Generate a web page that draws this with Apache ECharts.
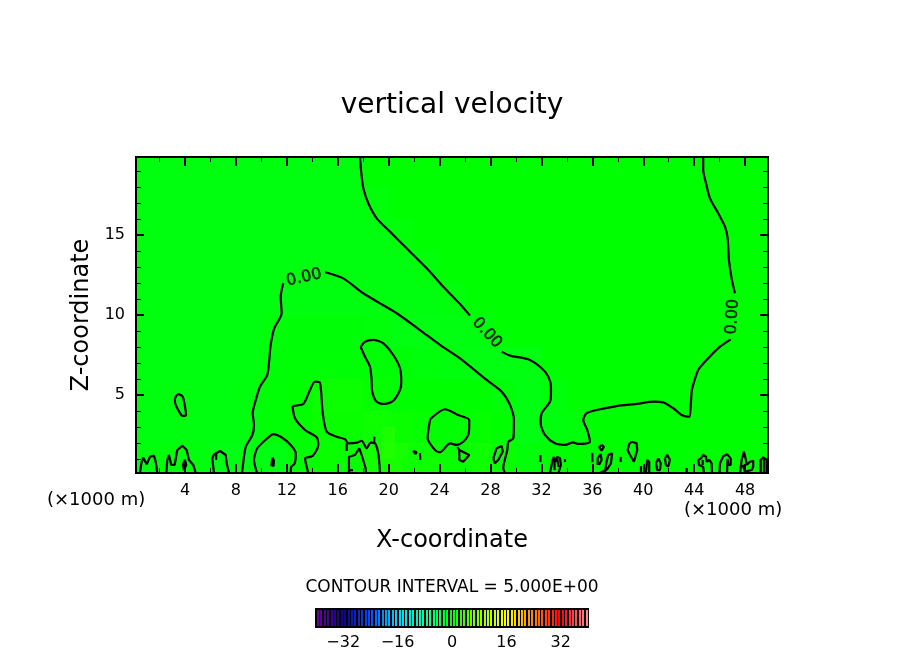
<!DOCTYPE html>
<html>
<head>
<meta charset="utf-8">
<title>vertical velocity</title>
<script src="https://cdn.jsdelivr.net/npm/echarts@6/dist/echarts.min.js"></script>
<style>
  html, body { margin: 0; padding: 0; background: #fff; }
  #main { width: 904px; height: 654px; }
</style>
</head>
<body>
<div id="main"></div>
<script>
// tick values, km
var xMajorTicks = [4, 8, 12, 16, 20, 24, 28, 32, 36, 40, 44, 48];
var xMinorTicks = [2, 6, 10, 14, 18, 22, 26, 30, 34, 38, 42, 46];
var zMajorTicks = [5, 10, 15];
var zMinorTicks = [1, 2, 3, 4, 6, 7, 8, 9, 11, 12, 13, 14, 16, 17, 18, 19];
var barTicks = [-32, -16, 0, 16, 32];

// colour bar cells, one per unit
var barValues = [-39.5, -38.5, -37.5, -36.5, -35.5, -34.5, -33.5, -32.5, -31.5, -30.5, -29.5, -28.5, -27.5, -26.5, -25.5, -24.5,
  -23.5, -22.5, -21.5, -20.5, -19.5, -18.5, -17.5, -16.5, -15.5, -14.5, -13.5, -12.5, -11.5, -10.5, -9.5, -8.5,
  -7.5, -6.5, -5.5, -4.5, -3.5, -2.5, -1.5, -0.5, 0.5, 1.5, 2.5, 3.5, 4.5, 5.5, 6.5, 7.5,
  8.5, 9.5, 10.5, 11.5, 12.5, 13.5, 14.5, 15.5, 16.5, 17.5, 18.5, 19.5, 20.5, 21.5, 22.5, 23.5,
  24.5, 25.5, 26.5, 27.5, 28.5, 29.5, 30.5, 31.5, 32.5, 33.5, 34.5, 35.5, 36.5, 37.5, 38.5, 39.5];

// background field, 2 km cells
var fieldX = [1, 3, 5, 7, 9, 11, 13, 15, 17, 19, 21, 23, 25, 27, 29, 31, 33, 35, 37, 39, 41, 43, 45, 47, 49];
var fieldZ = [1, 3, 5, 7, 9, 11, 13, 15, 17, 19];
var fieldValues = [
  [-0.6, -0.4, -0.6, -1, -0.8, -0.8, -0.2, 0.4, 0.4, 1, 0.8, 0.8, 0.5, 0.8, 0.5, -0.4, 0, 0, 0, 0, 0, 0, 0, 0, 0],
  [-0.7, -0.7, -0.7, -0.7, -0.7, -0.2, 0, 0.5, 0.5, 0.8, 0.5, 0.3, 0, 0.3, 0, -0.8, -0.6, -0.4, 0, 0, 0, 0, 0, 0, 0],
  [-0.7, -0.7, -0.7, -0.7, -0.6, -0.2, 0, 0.6, 0.6, 0.3, 0, 0, 0, 0, -0.4, -0.8, -0.5, 0, 0, 0, 0, 0, 0, 0, 0],
  [-0.7, -0.7, -0.7, -0.7, -0.7, -0.3, -0.2, -0.2, -0.2, -0.2, -0.3, -0.5, -0.6, -0.8, -0.8, -0.8, 0, 0, 0, 0, 0, 0, 0, 0, 0],
  [-0.7, -0.7, -0.7, -0.7, -0.7, -0.4, -0.3, -0.3, -0.3, -0.4, -0.8, -0.8, -0.8, -0.7, 0, 0, 0, 0, 0, 0, 0, 0, 0, 0, 0],
  [-0.7, -0.7, -0.7, -0.7, -0.7, -0.7, -0.7, -0.7, -0.7, -0.7, -0.7, -0.7, -0.5, 0, 0, 0, 0, 0, 0, 0, 0, 0, 0, 0, 0],
  [-0.7, -0.7, -0.7, -0.7, -0.7, -0.7, -0.7, -0.7, -0.7, -0.7, -0.7, -0.4, 0, 0, 0, 0, 0, 0, 0, 0, 0, 0, 0, 0, 0],
  [-0.7, -0.7, -0.7, -0.7, -0.7, -0.7, -0.7, -0.7, -0.7, -0.7, -0.4, 0, 0, 0, 0, 0, 0, 0, 0, 0, 0, 0, 0, 0, 0],
  [-0.7, -0.7, -0.7, -0.7, -0.7, -0.7, -0.7, -0.7, -0.7, -0.4, 0, 0, 0, 0, 0, 0, 0, 0, 0, 0, 0, 0, 0, 0, 0],
  [-0.7, -0.7, -0.7, -0.7, -0.7, -0.7, -0.7, -0.7, -0.7, 0, 0, 0, 0, 0, 0, 0, 0, 0, 0, 0, 0, 0, 0, 0, 0]
];
// warmer 1 km spots near the ground
var fieldSpots = [[20, 1.5, 1.7], [20, 2.5, 1.5], [20.5, 0.5, 1.2], [21, 1.5, 1.2]];

// zero contours, [x, z] in km
var lineTopLeft = [[17.75, 19.875], [17.85, 18.86], [18.01, 17.92], [18.4, 16.98], [19.06, 16.04], [20.1, 15.21], [21.41, 14.17],
  [22.99, 12.92], [24.29, 11.77], [25.6, 10.69], [26.39, 9.96]];
var lineValley = [[28.88, 7.71], [29.53, 7.46], [30.97, 7.23], [32.02, 6.67], [32.54, 6.14], [32.75, 5.52], [32.75, 5.13], [32.67, 4.58],
  [32.02, 3.86], [31.94, 3.23], [32.28, 2.5], [33.06, 1.98], [33.85, 1.88], [34.5, 2.04], [34.89, 1.94], [35.81, 2.08], [35.6, 2.81],
  [35.29, 3.44], [35.55, 3.86], [36.34, 4.06], [37.91, 4.31], [39.48, 4.44], [40.79, 4.58], [41.57, 4.54], [42.36, 4.17], [43.02, 3.75],
  [43.61, 3.64], [43.72, 4.27], [43.8, 5.19], [43.88, 5.52], [44.32, 6.56], [44.98, 7.19], [46.03, 8.02], [46.87, 8.48]];
var lineTopRight = [[47.2, 11.36], [46.94, 12.29], [46.73, 13.44], [46.63, 14.79], [46.42, 15.52], [45.89, 16.36], [45.24, 17.29],
  [44.93, 18.23], [44.71, 19.06], [44.71, 19.875]];
var archLeft = [[8.48, 0.125], [8.58, 0.81], [8.77, 1.75], [9.29, 2.5], [9.42, 3.13], [9.32, 3.86], [9.63, 4.88], [9.89, 5.52], [10.46, 6.25],
  [10.62, 7.19], [10.73, 8.13], [11.01, 9.17], [11.59, 10.11], [11.52, 11.14], [11.72, 11.98]];
var archRight = [[15, 12.67], [16.43, 12.29], [18, 11.36], [19.32, 10.73], [20.63, 10.11], [22.46, 9.06], [24.03, 8.13], [25.6, 7.29],
  [27.7, 5.94], [28.88, 5.21], [29.53, 4.38], [29.84, 3.44], [29.79, 2.29], [29.4, 2.08], [29.32, 1.56], [29, 0.44], [29.14, 0.125]];
var ovalCentre = [[17.8, 8], [18.14, 8.33], [18.79, 8.44], [19.58, 8.23], [20.36, 7.5], [20.89, 6.67], [20.99, 5.81], [20.89, 5.31], [20.36, 4.64],
  [19.71, 4.44], [19.06, 4.58], [18.71, 5.21], [18.66, 5.94], [18.53, 6.77], [18.14, 7.39], [17.8, 8]];
var ovalLeft = [[3.21, 4.79], [3.47, 5.06], [3.82, 4.89], [4, 4.27], [4.08, 3.75], [3.82, 3.69], [3.47, 4.06], [3.21, 4.58], [3.21, 4.79]];
var lobe14 = [[13.68, 0.125], [13.43, 1.04], [14.03, 1.19], [14.47, 1.88], [14.34, 2.36], [13.43, 2.81], [12.64, 3.54], [12.46, 4.27], [13.29, 4.44],
  [13.82, 5.31], [14.21, 5.83], [14.6, 5.77], [14.82, 3.86], [15.13, 2.71], [15.92, 2.39], [16.57, 2.23], [16.83, 1.98], [17.49, 2.02],
  [17.88, 2.14], [18.27, 1.67], [18.59, 2.02], [18.92, 1.98], [19.18, 1.36], [19.32, 0.125]];
var lobe24 = [[23.25, 3.48], [24.42, 4.11], [25.47, 3.75], [26.33, 3.44], [26.33, 3.13], [26.25, 2.5], [25.86, 2.08], [25.34, 1.88], [24.82, 1.98],
  [24.03, 1.42], [23.64, 1.56], [23.06, 2.29], [23.25, 3.48]];
var dome12 = [[9.66, 0.125], [9.42, 0.94], [9.68, 1.67], [10.46, 2.29], [10.94, 2.56], [11.52, 2.39], [12.3, 1.88], [12.7, 1.36], [12.62, 0.73],
  [12.35, 0.52], [12.3, 0.125]];

// small cells along the ground
var smallContours = [
  [[0.46, 0.125], [0.57, 0.73], [0.72, 1.08], [0.99, 0.67], [1.25, 1.14], [1.56, 1.21], [1.7, 0.83], [1.82, 0.125]],
  [[2.53, 0.125], [2.61, 0.94], [2.74, 1.25], [2.92, 0.63], [3.19, 0.63], [3.39, 1.56], [3.79, 1.83], [4.13, 1.56], [4.31, 0.94], [4.65, 0.63], [4.84, 0.125]],
  [[3.98, 0.96], [3.84, 0.63], [3.92, 0.31], [4.1, 0.63], [3.98, 0.96]],
  [[6.28, 0.125], [6.14, 1.04], [6.28, 1.29], [6.75, 1.5], [7.2, 1.25], [7.27, 0.73], [7.46, 0.125]],
  [[6.46, 1.44], [6.44, 0.94]],
  [[10.89, 1.09], [10.78, 0.63], [10.95, 0.56], [10.99, 0.88], [10.89, 1.09]],
  [[18.87, 2.39], [18.86, 2.06]],
  [[16.88, 0.125], [16.88, 1.14], [17.35, 1.25], [17.69, 1.67], [17.88, 1.25], [18.19, 0.42], [18.22, 0.125]],
  [[16.7, 1.98], [16.7, 1.5]],
  [[16.96, 0.3], [17.2, 0.3]],
  [[21.91, 1.5], [22.18, 1.44], [22.14, 1.31], [21.91, 1.5]],
  [[22.46, 1.38], [22.48, 0.94]],
  [[25.4, 1.75], [25.55, 1.56], [26.33, 1.25], [25.86, 0.83], [25.55, 0.94], [25.55, 1.56]],
  [[28.22, 1.04], [28.48, 1.67], [28.88, 1.81], [28.96, 1.46], [28.61, 0.94], [28.35, 0.73], [28.22, 1.04]],
  [[31.92, 1.25], [31.92, 0.81]],
  [[32.67, 0.125], [32.83, 0.75], [32.95, 1.13], [33.1, 0.81], [33.22, 1.13], [33.46, 1.06], [33.53, 0.63], [33.34, 0.125]],
  [[33.03, 1], [33.03, 0.3]],
  [[33.25, 1], [33.35, 0.5]],
  [[33.85, 1], [33.85, 0.81]],
  [[36, 1.38], [36, 0.8]],
  [[36.73, 1.88], [36.91, 1.77], [36.73, 1.52], [36.54, 1.73], [36.73, 1.88]],
  [[36.42, 0.63], [36.42, 1.04], [36.65, 1.31], [36.73, 0.94], [36.52, 0.63]],
  [[36.6, 0.125], [37.17, 0.36], [37.46, 0.73], [37.56, 1.36], [37.25, 1.25], [37.11, 0.81], [36.99, 0.125]],
  [[38.22, 1.13], [38.22, 0.81]],
  [[39.09, 2.08], [39.48, 1.98], [39.53, 1.56], [39.27, 0.83], [38.96, 1.25], [38.77, 1.56], [38.9, 1.94], [39.09, 2.08]],
  [[39.82, 0.56], [39.82, 0.125]],
  [[40.21, 0.125], [40.31, 0.94], [40.47, 0.83], [40.47, 0.125]],
  [[41, 0.73], [41.18, 1.04], [41.37, 0.73], [41.31, 0.31], [41.1, 0.31], [41, 0.73]],
  [[41.7, 1.04], [41.89, 1.25], [42.1, 0.94], [41.96, 0.52], [41.78, 0.63], [41.7, 1.04]],
  [[43.41, 0.44], [43.41, 0.125]],
  [[44.77, 0.125], [44.71, 0.5], [44.38, 0.63], [44.32, 0.94], [44.53, 1.04], [44.71, 1.25], [44.93, 1.14], [44.98, 0.83], [45.19, 0.94], [45.37, 0.73], [45.4, 0.125]],
  [[44.67, 0.94], [44.67, 0.63]],
  [[45.99, 0.125], [46.03, 0.73], [46.29, 1.19], [46.6, 1.29], [46.87, 1.04], [46.87, 0.63], [46.69, 0.63], [46.62, 1], [46.58, 0.125]],
  [[47.6, 0.125], [47.73, 0.94], [47.91, 1.46], [48.07, 0.94], [48.12, 0.63], [48.38, 0.83], [48.64, 0.89], [48.64, 0.52], [48.52, 0.31], [47.99, 0.21], [47.81, 0.63]],
  [[49.22, 0.125], [49.22, 0.94], [49.43, 1.11], [49.69, 0.94], [49.69, 0.125]],
  [[49.48, 0.94], [49.48, 0.125]]
];

// contour label anchors and their angle
var labelPoints = [[13.35, 12.34], [27.72, 8.88], [47.02, 9.89]];
var labelAngles = [13, -47, 86];

var textFont = '"DejaVu Sans", sans-serif';
var XMIN = 0.15, XMAX = 49.8, ZMIN = 0.125, ZMAX = 19.875;

var mainLines = [lineTopLeft, lineValley, lineTopRight, archLeft, archRight, ovalCentre, ovalLeft, lobe14, lobe24, dome12];

var fieldData = [];
fieldZ.forEach(function (z, i) {
  fieldX.forEach(function (x, j) {
    fieldData.push([x, z, fieldValues[i][j], 1]);
  });
});
fieldSpots.forEach(function (s) {
  fieldData.push([s[0], s[1], s[2], 0.5]);
});

function frameAxis(dim, pos, ticks, len, width, showLabel) {
  return {
    type: 'value',
    position: pos,
    z: 10,
    min: dim === 'x' ? XMIN : ZMIN,
    max: dim === 'x' ? XMAX : ZMAX,
    splitLine: { show: false },
    axisLine: { show: true, onZero: false, lineStyle: { color: '#000', width: 2 } },
    axisTick: { show: true, inside: true, length: len, customValues: ticks, lineStyle: { color: '#000', width: width } },
    axisLabel: {
      show: !!showLabel, customValues: ticks, color: '#000',
      fontFamily: textFont, fontSize: 16, margin: dim === 'x' ? 10 : 11
    }
  };
}

var xBottom = frameAxis('x', 'bottom', xMajorTicks, 9, 2, true);
xBottom.name = 'X-coordinate';
xBottom.nameLocation = 'middle';
xBottom.nameGap = 56;
xBottom.nameTextStyle = { color: '#000', fontFamily: textFont, fontSize: 24 };

var zLeft = frameAxis('z', 'left', zMajorTicks, 8, 2, true);
zLeft.name = 'Z-coordinate';
zLeft.nameLocation = 'middle';
zLeft.nameGap = 38;
zLeft.nameTextStyle = { color: '#000', fontFamily: textFont, fontSize: 24 };

var series = [];

series.push({
  type: 'custom',
  xAxisIndex: 0,
  yAxisIndex: 0,
  silent: true,
  clip: true,
  data: fieldData,
  encode: { x: 0, y: 1 },
  renderItem: function (params, api) {
    var x = api.value(0), z = api.value(1), half = api.value(3);
    var a = api.coord([x - half, z + half]);
    var b = api.coord([x + half, z - half]);
    var left = Math.round(a[0]), top = Math.round(a[1]);
    return {
      type: 'rect',
      shape: { x: left, y: top, width: Math.round(b[0]) - left, height: Math.round(b[1]) - top },
      style: { fill: api.visual('color') }
    };
  }
});

series.push({
  type: 'custom',
  xAxisIndex: 4,
  yAxisIndex: 4,
  silent: true,
  data: barValues.map(function (v) { return [v, 0, v]; }),
  encode: { x: 0, y: 1 },
  renderItem: function (params, api) {
    var v = api.value(0);
    var a = api.coord([v - 0.5, 1]);
    var b = api.coord([v + 0.5, -1]);
    return {
      type: 'rect',
      shape: { x: Math.round(a[0]) + 1, y: a[1] + 1, width: 2, height: b[1] - a[1] - 2 },
      style: { fill: api.visual('color') }
    };
  }
});

mainLines.forEach(function (pts) {
  series.push({
    type: 'line',
    xAxisIndex: 0,
    yAxisIndex: 0,
    data: pts,
    symbol: 'none',
    smooth: 0.25,
    silent: true,
    lineStyle: { color: '#000', width: 2.2 },
    z: 5
  });
});

smallContours.forEach(function (pts) {
  series.push({
    type: 'line',
    xAxisIndex: 0,
    yAxisIndex: 0,
    data: pts,
    symbol: 'none',
    silent: true,
    lineStyle: { color: '#000', width: 2.2 },
    z: 5
  });
});

series.push({
  type: 'scatter',
  xAxisIndex: 0,
  yAxisIndex: 0,
  silent: true,
  symbolSize: 1,
  itemStyle: { color: 'rgba(0,0,0,0)' },
  z: 6,
  data: labelPoints.map(function (p, i) {
    return { value: p, label: { rotate: labelAngles[i] } };
  }),
  label: {
    show: true,
    position: 'inside',
    formatter: '0.00',
    color: '#000',
    fontFamily: textFont,
    fontSize: 16,
    textBorderColor: '#000',
    textBorderWidth: 0.5
  }
});

var option = {
  animation: false,
  backgroundColor: '#fff',
  title: [
    { text: 'vertical velocity', left: 'center', top: 87, textStyle: { color: '#000', fontFamily: textFont, fontSize: 28, fontWeight: 'normal' } },
    { text: 'CONTOUR INTERVAL = 5.000E+00', left: 'center', top: 574, textStyle: { color: '#000', fontFamily: textFont, fontSize: 17, fontWeight: 'normal' } }
  ],
  grid: [
    { left: 136, right: 136, top: 157, bottom: 181 },
    { left: 316, width: 272, top: 609, height: 18, show: true, backgroundColor: '#000', borderColor: '#000', borderWidth: 2 }
  ],
  visualMap: {
    show: false,
    type: 'continuous',
    min: -40,
    max: 40,
    dimension: 2,
    seriesIndex: [0, 1],
    inRange: {
      color: ['#70009c', '#10008c', '#0050ff', '#00d8ff', '#00ffa0', '#00ff00', '#90ff00', '#ffff00', '#ff8000', '#ff0000', '#ff9090']
    }
  },
  xAxis: [
    xBottom,
    frameAxis('x', 'bottom', xMinorTicks, 5, 1),
    frameAxis('x', 'top', xMajorTicks, 9, 2),
    frameAxis('x', 'top', xMinorTicks, 5, 1),
    {
      type: 'value',
      gridIndex: 1,
      min: -40,
      max: 40,
      splitLine: { show: false },
      axisLine: { show: false },
      axisTick: { show: false },
      axisLabel: {
        customValues: barTicks, color: '#000', fontFamily: textFont, fontSize: 16, margin: 8,
        formatter: function (v) { return String(v).replace('-', '\u2212'); }
      }
    }
  ],
  yAxis: [
    zLeft,
    frameAxis('z', 'left', zMinorTicks, 5, 1),
    frameAxis('z', 'right', zMajorTicks, 8, 2),
    frameAxis('z', 'right', zMinorTicks, 5, 1),
    { type: 'value', gridIndex: 1, min: -1, max: 1, show: false }
  ],
  graphic: [
    { type: 'text', left: 47, top: 491, style: { text: '(\u00d71000 m)', fill: '#000', font: '18px ' + textFont } },
    { type: 'text', left: 684, top: 501, style: { text: '(\u00d71000 m)', fill: '#000', font: '18px ' + textFont } }
  ],
  series: series
};

var myChart = echarts.init(document.getElementById('main'), null, { renderer: 'canvas' });
myChart.setOption(option);
</script>
</body>
</html>
